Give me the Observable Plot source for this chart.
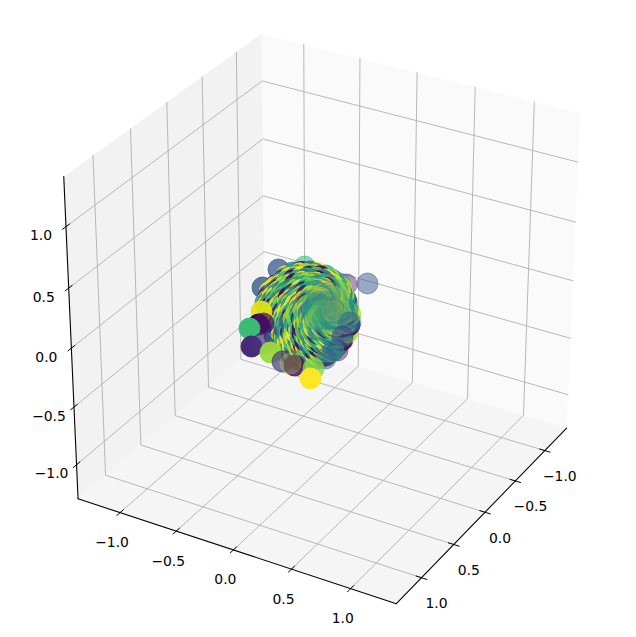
<!DOCTYPE html>
<html><head><meta charset="utf-8">
<script src="https://cdn.jsdelivr.net/npm/d3@7"></script>
<script src="https://cdn.jsdelivr.net/npm/@observablehq/plot@0.6"></script>
<style>html,body{margin:0;background:#fff}svg{display:block}</style>
</head><body><div id="chart"></div>
<script>
const tickValues = [-1, -0.5, 0, 0.5, 1];
const tickLabels = ["\u22121.0", "\u22120.5", "0.0", "0.5", "1.0"];
const xLimits = [-1.38, 1.38];
const yLimits = [-1.38, 1.38];
const zLimits = [-1.30, 1.40];

// Outer circles; u,v are view-plane values
const backU = [0.57,0.36,0.29,-0.06,-0.32,-0.18,-0.12,0.07,-0.48,-0.35,-0.28,-0.40,-0.45,0.35,0.32,0.35,0.30,0.23,0.15];
const backV = [0.32,0.31,0.32,0.49,0.46,0.43,0.43,0.37,0.28,0.30,0.35,0.23,0.13,-0.20,0.03,0.07,0.22,0.30,0.32];
const backColor = [0.27,0.05,0.42,0.66,0.27,0.38,0.33,0.97,0.27,0.02,0.9,0.42,0.4,0.9,0.95,0.8,0.65,0.6,0.62];
const backAlpha = [0.5,0.42,0.38,0.55,0.75,0.7,0.6,0.4,0.8,0.95,0.7,0.8,0.7,0.3,0.5,0.4,0.6,0.6,0.6];

const frontU = [0.38,0.40,0.32,0.27,0.23,0.15,-0.49,-0.52,-0.47,-0.61,-0.59,-0.48,-0.40,-0.28,-0.16,-0.20,0.03,0.00];
const frontV = [-0.07,-0.07,-0.21,-0.35,-0.35,-0.43,0.04,-0.09,-0.08,-0.13,-0.31,-0.28,-0.37,-0.46,-0.50,-0.48,-0.53,-0.63];
const frontColor = [0.38,0.35,0.2,0.05,0.45,0.3,0.95,0.0,0.05,0.68,0.12,0.15,0.85,0.18,0.05,0.9,0.82,1.0];
const frontAlpha = [0.45,0.4,0.6,0.45,0.65,0.5,0.95,1,0.7,1,1,0.7,0.95,0.7,0.85,0.3,0.75,1];

// Dense swirl around its eye: radius and angles of each band as read
const eye = [0.17, 0.08];
const ringRadius = [0.60,0.56,0.52,0.48,0.44,0.40,0.36,0.32,0.28,0.24,0.20,0.16,0.12,0.06];
const ringAlpha = [0.85,0.85,0.85,0.85,0.85,0.85,0.82,0.82,0.8,0.75,0.65,0.5,0.3,0.15];
const ringAngles = [
 [163,165,168,170,173,175,178,180,182,185,187,190,192,194,197,199,202,204,206,209,211,214,216,218,221,223,226,228,230,233,235,238,240],
 [158,164,169,173,179,184,188,194,199,203,209,214,218,224,229,233,239,244,248],
 [143,146,149,151,154,157,160,162,165,168,171,173,176,179,182,184,187,190,193,195,198,201,204,206,209,212,215,217,220,223,226,228,231,234,237,239,242,245,248,250,253,256,259,261],
 [136,142,147,154,160,165,172,178,183,190,196,201,208,214,219,226,232,237,244,250,255,262,268],
 [126,129,133,136,139,142,146,149,152,155,159,162,165,168,172,175,178,181,185,188,191,194,198,201,204,207,211,214,217,220,224,227,230,233,237,240,243,246,250,253,256,259,263,266,269,272,276],
 [116,123,131,137,144,152,158,165,173,179,186,194,200,207,215,221,228,236,242,249,257,263,270,278,284],
 [106,110,114,118,122,126,130,134,138,142,146,150,154,158,162,166,170,174,178,182,186,190,194,198,202,206,210,214,218,222,226,230,234,238,242,246,250,254,258,262,266,270,274,278,282,286,290,294],
 [93,103,111,120,130,138,147,157,165,174,184,192,201,211,219,228,238,246,255,265,273,282,292,300,309],
 [80,85,90,95,100,106,111,116,121,126,131,136,142,147,152,157,162,167,172,178,183,188,193,198,203,208,214,219,224,229,234,239,244,250,255,260,265,270,275,280,286,291,296,301,306,311,316,322],
 [55,68,79,92,103,116,127,140,151,164,175,188,199,212,223,236,247,260,271,284,295,308,319,332,343],
 [2,9,16,24,31,38,45,52,60,67,74,81,88,96,103,110,117,124,132,139,146,153,160,168,175,182,189,196,204,211,218,225,232,240,247,254,261,268,276,283,290,297,304,312,319,326,333,340,348,355],
 [8,27,44,63,80,99,116,135,152,171,188,207,224,243,260,279,296,315,332,351],
 [6,18,30,42,54,66,78,90,102,114,126,138,150,162,174,186,198,210,222,234,246,258,270,282,294,306,318,330,342,354],
 [12,36,60,84,108,132,156,180,204,228,252,276,300,324,348]
];
const ringColors = [
 "593184950638596248905638495",
 "9394086095473",
 "9415930859647052968345039385974",
 "5968374950862",
 "0958304968547395860495837460589639",
 "3895046085963",
 "9485063957486059384695087463950684",
 "6074859369587",
 "5869340958675048693958460594738650",
 "8593647509386",
 "4950683957864095836597408693584965",
 "4586394857348",
 "458479376398435465874563458",
 "484536358745493"
];

// Camera of the 3D box
const elev = 30 * Math.PI / 180, azim = 30 * Math.PI / 180;
const camDist = 10, boxSide = 1.1, boxZ = 1.1, zoomK = 3.34, centerU = 0.16, centerV = 0.075;
function project(x, y, z) {
  const px = boxSide * ((y - yLimits[0]) / (yLimits[1] - yLimits[0]) - 0.5);
  const py = boxSide * ((x - xLimits[0]) / (xLimits[1] - xLimits[0]) - 0.5);
  const pz = boxZ * ((z - zLimits[0]) / (zLimits[1] - zLimits[0]) - 0.5);
  const ca = Math.cos(azim), sa = Math.sin(azim), ce = Math.cos(elev), se = Math.sin(elev);
  const xc = -sa * px + ca * py;
  const yc = -se * ca * px - se * sa * py + ce * pz;
  const zc = camDist - (ce * ca * px + ce * sa * py + se * pz);
  return [centerU + zoomK * camDist * xc / zc, centerV + zoomK * camDist * yc / zc];
}
const [xl, xh] = xLimits, [yl, yh] = yLimits, [zl, zh] = zLimits;
const path3 = (id, pts) => pts.map(p => { const [u, v] = project(...p); return {id, u, v}; });

const leftPane = path3("l", [[xl,yh,zl],[xl,yl,zl],[xl,yl,zh],[xl,yh,zh]]);
const rightPane = path3("r", [[xl,yl,zl],[xh,yl,zl],[xh,yl,zh],[xl,yl,zh]]);
const floorPane = path3("f", [[xl,yh,zl],[xh,yh,zl],[xh,yl,zl],[xl,yl,zl]]);

const grid = [
  ...tickValues.flatMap((t, i) => [
    ...path3("x" + i, [[t,yh,zl],[t,yl,zl],[t,yl,zh]]),
    ...path3("y" + i, [[xh,t,zl],[xl,t,zl],[xl,t,zh]]),
    ...path3("z" + i, [[xl,yh,t],[xl,yl,t],[xh,yl,t]])
  ])
];
const axes = [
  ...path3("ax", [[xl,yh,zl],[xh,yh,zl]]),
  ...path3("ay", [[xh,yl,zl],[xh,yh,zl]]),
  ...path3("az", [[xl,yh,zl],[xl,yh,zh]])
];
const tk = 0.045;
const ticks = tickValues.flatMap((t, i) => [
  ...path3("tx" + i, [[t,yh-tk,zl],[t,yh+tk,zl]]),
  ...path3("ty" + i, [[xh-tk,t,zl],[xh+tk,t,zl]]),
  ...path3("tz" + i, [[xl,yh-tk,t],[xl,yh+tk,t]])
]);
const labelRows = (axis, at) => tickValues.map((t, i) => {
  const [u, v] = project(...at(t)); return {u, v, label: tickLabels[i], axis};
});
const xLabels = labelRows("x", t => [t,yh,zl]);
const yLabels = labelRows("y", t => [xh,t,zl]);
const zLabels = labelRows("z", t => [xl,yh,t]);

const rowsOf = (U, V, C, A) => U.map((u, i) => ({u, v: V[i], c: C[i], a: A[i]}));
const backDots = rowsOf(backU, backV, backColor, backAlpha);
const frontDots = rowsOf(frontU, frontV, frontColor, frontAlpha);
const swirlDots = ringRadius.flatMap((r, k) => ringAngles[k].map((deg, i) => {
  const s = ringColors[k];
  return {
    u: eye[0] + r * Math.cos(deg * Math.PI / 180),
    v: eye[1] + r * Math.sin(deg * Math.PI / 180),
    c: +s[i % s.length] / 9, a: ringAlpha[k]
  };
}));

const dotOpts = {x: "u", y: "v", r: 10.5, fill: "c", stroke: "c", fillOpacity: "a", strokeOpacity: "a", strokeWidth: 1};
const labelStyle = {x: "u", y: "v", text: "label", fontSize: 13.9, fill: "#000", textAnchor: "middle"};

const chart = Plot.plot({
  width: 636, height: 637,
  marginLeft: 0, marginRight: 0, marginTop: 0, marginBottom: 0,
  style: {fontFamily: "'DejaVu Sans'", background: "#fff"},
  x: {domain: [-3.10, 3.26], axis: null},
  y: {domain: [-3.22, 3.15], axis: null},
  color: {type: "linear", scheme: "viridis", domain: [0, 1]},
  marks: [
    Plot.line(leftPane, {x: "u", y: "v", fill: "#f2f2f2", stroke: "none"}),
    Plot.line(rightPane, {x: "u", y: "v", fill: "#fafafa", stroke: "none"}),
    Plot.line(floorPane, {x: "u", y: "v", fill: "#f5f5f5", stroke: "none"}),
    Plot.line(grid, {x: "u", y: "v", z: "id", stroke: "#b0b0b0", strokeWidth: 0.9}),
    Plot.line(axes, {x: "u", y: "v", z: "id", stroke: "#000", strokeWidth: 1.1}),
    Plot.line(ticks, {x: "u", y: "v", z: "id", stroke: "#000", strokeWidth: 1}),
    Plot.text(xLabels, {...labelStyle, dx: -8, dy: 30}),
    Plot.text(yLabels, {...labelStyle, dx: 15, dy: 26}),
    Plot.text(zLabels, {...labelStyle, dx: -25, dy: 9}),
    Plot.dot(backDots, dotOpts),
    Plot.dot(swirlDots, dotOpts),
    Plot.dot(frontDots, dotOpts)
  ]
});
document.getElementById("chart").append(chart);
</script></body></html>
